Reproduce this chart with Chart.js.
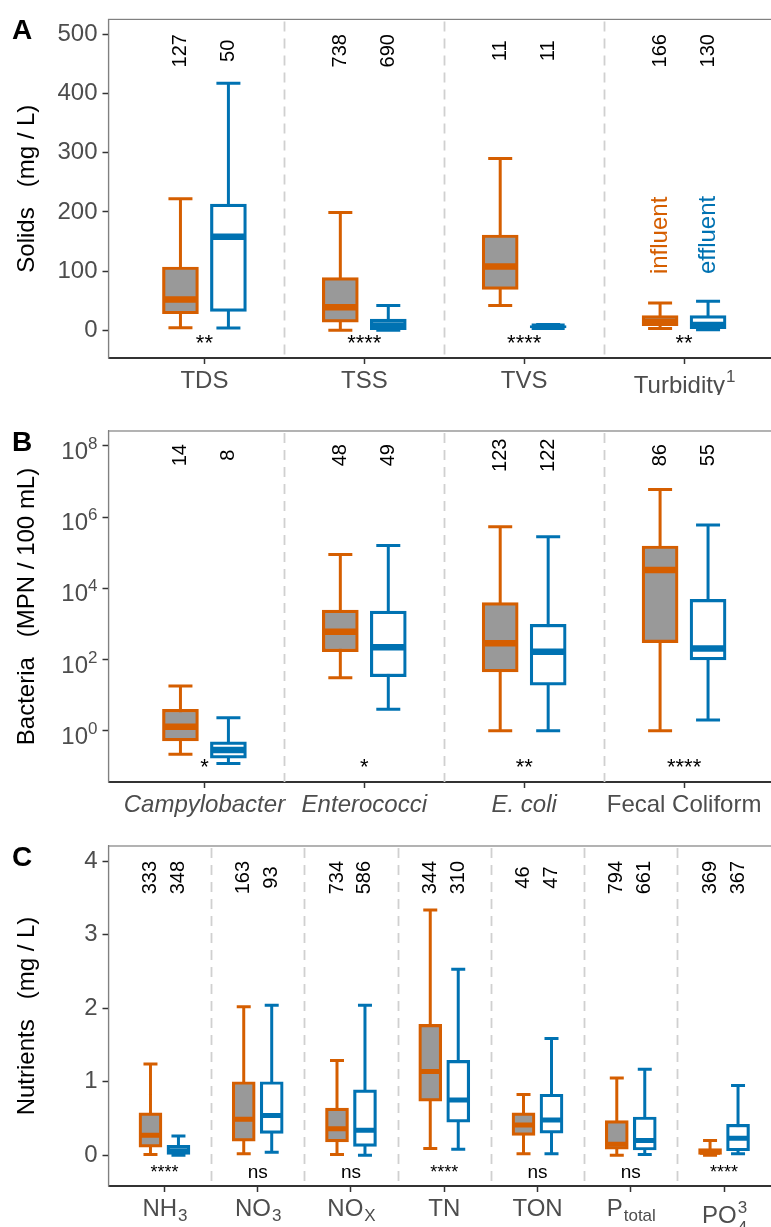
<!DOCTYPE html>
<html>
<head>
<meta charset="utf-8">
<title>Influent vs effluent boxplots</title>
<script src="https://cdn.jsdelivr.net/npm/chart.js@4.4.1/dist/chart.umd.min.js"></script>
<style>
  html, body { margin: 0; padding: 0; background: #fff; overflow: hidden; width: 771px; height: 1227px; }
  canvas { display: block; }
</style>
</head>
<body>
<canvas id="solids" width="781" height="395"></canvas>
<canvas id="bacteria" width="781" height="425"></canvas>
<canvas id="nutrients" width="781" height="407"></canvas>
<script>
// ---------------------------------------------------------------
// DATA  (each box: [lower whisker, Q1, median, Q3, upper whisker])
// ---------------------------------------------------------------
const solidsCategories = ['TDS', 'TSS', 'TVS', 'Turbidity^1'];
const solidsInfluent = [[4.5, 28, 52, 107, 222], [0, 14, 39, 89, 199], [42, 69, 108, 161, 290], [3, 8, 14, 25, 46]];
const solidsEffluent = [[4, 32, 158, 213, 417], [0, 1, 8, 19, 42], [3, 4, 6, 8, 10], [1, 3, 9, 25, 49]];
const solidsCounts = [[127, 50], [738, 690], [11, 11], [166, 130]];
const solidsSignif = ['**', '****', '****', '**'];
const solidsTicks = [0, 100, 200, 300, 400, 500];

const bacteriaCategories = ['Campylobacter', 'Enterococci', 'E. coli', 'Fecal Coliform'];
const bacteriaItalic = [true, true, true, false];
const bacteriaInfluent = [[0.22, 0.52, 1.3, 4, 18], [31, 166, 600, 2450, 90000], [1, 45, 285, 4000, 540000], [1, 300, 33000, 155000, 6000000]];
const bacteriaEffluent = [[0.12, 0.17, 0.29, 0.49, 2.3], [4, 33, 220, 2300, 160000], [1, 19, 166, 975, 280000], [2, 98, 205, 4900, 600000]];
const bacteriaCounts = [[14, 8], [48, 49], [123, 122], [86, 55]];
const bacteriaSignif = ['*', '*', '**', '****'];
const bacteriaTicks = [1, 1e2, 1e4, 1e6, 1e8];

const nutrientCategories = ['NH_3', 'NO_3', 'NO_X', 'TN', 'TON', 'P_total', 'PO_4^3'];
const nutrientInfluent = [[0.01, 0.11, 0.27, 0.575, 1.24], [0.02, 0.19, 0.49, 1.0, 2.02], [0.01, 0.18, 0.36, 0.64, 1.29], [0.09, 0.735, 1.14, 1.78, 3.34], [0.02, 0.27, 0.41, 0.575, 0.825], [0.0, 0.08, 0.15, 0.47, 1.05], [0.0, 0.01, 0.04, 0.09, 0.2]];
const nutrientEffluent = [[0.0, 0.01, 0.06, 0.135, 0.26], [0.04, 0.295, 0.54, 1.0, 2.04], [0.0, 0.12, 0.34, 0.89, 2.04], [0.08, 0.45, 0.75, 1.29, 2.53], [0.02, 0.30, 0.48, 0.83, 1.59], [0.01, 0.07, 0.2, 0.52, 1.17], [0.02, 0.06, 0.23, 0.42, 0.95]];
const nutrientCounts = [[333, 348], [163, 93], [734, 586], [344, 310], [46, 47], [794, 661], [369, 367]];
const nutrientSignif = ['****', 'ns', 'ns', '****', 'ns', 'ns', '****'];
const nutrientTicks = [0, 1, 2, 3, 4];

// ---------------------------------------------------------------
// STYLE
// ---------------------------------------------------------------
const INFLUENT = '#D55E00';
const EFFLUENT = '#0072B2';
const BOX_GRAY = '#999999';
const AXIS_TEXT = '#4d4d4d';
const FAMILY = "'Liberation Sans', Arial, Helvetica, sans-serif";
const DODGE = 0.15;

Chart.defaults.font.family = FAMILY;

// split 'P_total' / 'PO_4^3' / 'Turbidity^1' / '10^8' into pieces
function parseLabel(s) {
    const m = s.match(/^([^_^]+)(?:_([^_^]+))?(?:\^(.+))?$/);
    return { main: m[1], sub: m[2], sup: m[3] };
}

function buildDatasets(inf, eff, p) {
    const boxes = [], boxFill = [], boxLine = [];
    const medians = [], medianColors = [];
    const caps = [], capColors = [];
    const whiskers = { inf: [], eff: [] };
    inf.forEach((s, i) => {
        [[s, -1, INFLUENT, BOX_GRAY, 'inf'], [eff[i], 1, EFFLUENT, '#ffffff', 'eff']].forEach(([st, side, col, fill, key]) => {
            const x = i + 1 + side * DODGE;
            const [lo, q1, med, q3, hi] = st;
            boxes.push({ x, y: [q1, q3] }); boxFill.push(fill); boxLine.push(col);
            medians.push({ x, y: med }); medianColors.push(col);
            caps.push({ x, y: lo }, { x, y: hi }); capColors.push(col, col);
            whiskers[key].push({ x, y: lo }, { x, y: hi }, { x, y: null });
        });
    });
    return [
        { type: 'scatter', data: medians, pointStyle: 'line', pointRadius: (p.boxPx - 3) / 2, pointBorderWidth: p.medianWidth,
          pointBorderColor: medianColors, order: 0 },
        { type: 'bar', data: boxes, backgroundColor: boxFill, borderColor: boxLine, borderWidth: 3.2,
          borderSkipped: false, barThickness: p.boxPx, order: 1 },
        { type: 'scatter', data: caps, pointStyle: 'line', pointRadius: p.capHalf, pointBorderWidth: 3,
          pointBorderColor: capColors, order: 2 },
        { type: 'scatter', data: whiskers.inf, showLine: true, spanGaps: false, borderColor: INFLUENT,
          borderWidth: 3, pointRadius: 0, order: 3 },
        { type: 'scatter', data: whiskers.eff, showLine: true, spanGaps: false, borderColor: EFFLUENT,
          borderWidth: 3, pointRadius: 0, order: 3 },
    ];
}

function makePanel(id, p) {
    const n = p.cats.length;

    const framePlugin = {
        id: 'frame',
        beforeDraw(chart) {
            const { ctx, chartArea: a } = chart;
            ctx.save();
            ctx.strokeStyle = '#808080';
            ctx.lineWidth = 1.2;
            ctx.strokeRect(a.left, a.top, a.right - a.left, a.bottom - a.top);
            ctx.restore();
        },
        beforeDatasetsDraw(chart) {
            const { ctx, chartArea: a, scales: { x } } = chart;
            ctx.save();
            ctx.strokeStyle = '#d0d0d0';
            ctx.lineWidth = 1.8;
            ctx.setLineDash([10, 7]);
            for (let i = 1; i < n; i++) {
                const px = Math.round(x.getPixelForValue(i + 0.5)) + 0.5;
                ctx.beginPath();
                ctx.moveTo(px, a.top + 2);
                ctx.lineTo(px, a.bottom);
                ctx.stroke();
            }
            ctx.restore();
        }
    };

    const textPlugin = {
        id: 'panelText',
        afterDatasetsDraw(chart) {
            const { ctx, chartArea: a, scales: { x, y } } = chart;
            ctx.save();

            // sample sizes
            ctx.fillStyle = '#000';
            ctx.font = `20px ${FAMILY}`;
            ctx.textAlign = 'center';
            ctx.textBaseline = 'middle';
            p.counts.forEach((pair, i) => {
                pair.forEach((cnt, j) => {
                    ctx.save();
                    ctx.translate(x.getPixelForValue(i + 1 + (j ? DODGE : -DODGE)), y.getPixelForValue(p.countY));
                    ctx.rotate(-Math.PI / 2);
                    ctx.fillText(String(cnt), 0, 0);
                    ctx.restore();
                });
            });

            // significance marks
            ctx.textBaseline = 'alphabetic';
            p.signif.forEach((s, i) => {
                ctx.font = `${s === 'ns' ? p.nsSize : p.starSize}px ${FAMILY}`;
                ctx.fillText(s, x.getPixelForValue(i + 1), a.bottom - 8);
            });

            // influent / effluent key
            if (p.legendY !== undefined) {
                ctx.font = `24px ${FAMILY}`;
                ctx.textAlign = 'left';
                ctx.textBaseline = 'middle';
                [['influent', INFLUENT, -DODGE], ['effluent', EFFLUENT, DODGE]].forEach(([t, c, d]) => {
                    ctx.save();
                    ctx.fillStyle = c;
                    ctx.translate(x.getPixelForValue(n + d), y.getPixelForValue(p.legendY));
                    ctx.rotate(-Math.PI / 2);
                    ctx.fillText(t, 0, 0);
                    ctx.restore();
                });
            }

            // power-of-ten tick labels (log panel)
            ctx.fillStyle = AXIS_TEXT;
            ctx.textBaseline = 'alphabetic';
            if (p.richTicks) {
                ctx.textAlign = 'right';
                p.yTicks.forEach(v => {
                    const lab = parseLabel(p.tickLabel(v));
                    const py = y.getPixelForValue(v);
                    const right = a.left - 11;
                    ctx.font = `17px ${FAMILY}`;
                    const pw = ctx.measureText(lab.sup).width;
                    ctx.fillText(lab.sup, right, py + 3);
                    ctx.font = `24px ${FAMILY}`;
                    ctx.fillText(lab.main, right - pw, py + 13);
                });
            }

            // category labels with sub/superscripts
            ctx.textAlign = 'left';
            p.cats.forEach((c, i) => {
                const lab = parseLabel(c);
                const style = p.italic && p.italic[i] ? 'italic ' : '';
                ctx.font = `${style}24px ${FAMILY}`;
                const mw = ctx.measureText(lab.main).width;
                ctx.font = `17px ${FAMILY}`;
                const sw = lab.sub ? ctx.measureText(lab.sub).width : 0;
                const pw = lab.sup ? ctx.measureText(lab.sup).width : 0;
                const x0 = x.getPixelForValue(i + 1) - (mw + Math.max(sw, pw)) / 2;
                const base = a.bottom + 30 + (lab.sup && lab.sub ? 7 : lab.sup ? 5 : 0);
                ctx.font = `${style}24px ${FAMILY}`;
                ctx.fillText(lab.main, x0, base);
                ctx.font = `17px ${FAMILY}`;
                if (lab.sub) ctx.fillText(lab.sub, x0 + mw + 1, base + (lab.sup ? 10 : 5));
                if (lab.sup) ctx.fillText(lab.sup, x0 + mw + 1, base - (lab.sub ? 10 : 11));
            });

            // panel letter
            ctx.fillStyle = '#000';
            ctx.font = `bold 28px ${FAMILY}`;
            ctx.fillText(p.letter, 12, a.top + 20);
            ctx.restore();
        }
    };

    return new Chart(document.getElementById(id), {
        type: 'bar',
        data: { datasets: buildDatasets(p.inf, p.eff, p) },
        options: {
            responsive: false,
            animation: false,
            devicePixelRatio: 1,
            events: [],
            layout: { autoPadding: false, padding: { top: p.padTop, left: 0, right: 1, bottom: 0 } },
            plugins: { legend: { display: false }, tooltip: { enabled: false } },
            scales: {
                x: {
                    type: 'linear', min: 0.4, max: n + 0.6, offset: false,
                    afterBuildTicks: s => { s.ticks = p.cats.map((c, i) => ({ value: i + 1 })); },
                    afterFit: s => { s.height = p.xHeight; },
                    ticks: { display: false },
                    grid: { display: true, offset: false, drawOnChartArea: false, drawTicks: true, tickLength: 6, tickColor: '#333', tickWidth: 1.5 },
                    border: { display: true, color: '#333', width: 2 }
                },
                y: {
                    type: p.yType, min: p.yMin, max: p.yMax,
                    afterBuildTicks: s => { s.ticks = p.yTicks.map(v => ({ value: v })); },
                    afterFit: s => { s.width = 108.5; },
                    ticks: { display: !p.richTicks, color: AXIS_TEXT, font: { size: 24 }, padding: 5, callback: p.tickLabel },
                    grid: { display: true, drawOnChartArea: false, drawTicks: true, tickLength: 6, tickColor: '#333', tickWidth: 1.5 },
                    border: { display: true, color: '#808080', width: 1.2 },
                    title: { display: true, text: p.title, color: '#000', font: { size: 24 }, padding: { top: 13, bottom: 0 } }
                }
            }
        },
        plugins: [framePlugin, textPlugin]
    });
}

// ---------------------------------------------------------------
// PANELS
// ---------------------------------------------------------------
makePanel('solids', {
    cats: solidsCategories, inf: solidsInfluent, eff: solidsEffluent,
    counts: solidsCounts, signif: solidsSignif, yTicks: solidsTicks,
    yType: 'linear', yMin: -46.7, yMax: 525, tickLabel: v => String(v),
    title: 'Solids   (mg / L)', letter: 'A', padTop: 15, xHeight: 37,
    boxPx: 36, capHalf: 12, medianWidth: 6.5, countY: 472, starSize: 22, nsSize: 19, legendY: 95
});

makePanel('bacteria', {
    cats: bacteriaCategories, italic: bacteriaItalic, inf: bacteriaInfluent, eff: bacteriaEffluent,
    counts: bacteriaCounts, signif: bacteriaSignif, yTicks: bacteriaTicks,
    yType: 'logarithmic', yMin: Math.pow(10, -1.44), yMax: Math.pow(10, 8.42), richTicks: true,
    tickLabel: v => '10^' + Math.round(Math.log10(v)),
    title: 'Bacteria   (MPN / 100 mL)', letter: 'B', padTop: 36, xHeight: 38,
    boxPx: 36, capHalf: 12, medianWidth: 6.5, countY: 5.5e7, starSize: 22, nsSize: 19
});

makePanel('nutrients', {
    cats: nutrientCategories, inf: nutrientInfluent, eff: nutrientEffluent,
    counts: nutrientCounts, signif: nutrientSignif, yTicks: nutrientTicks,
    yType: 'linear', yMin: -0.42, yMax: 4.21, tickLabel: v => String(v),
    title: 'Nutrients   (mg / L)', letter: 'C', padTop: 26, xHeight: 41,
    boxPx: 23, capHalf: 7, medianWidth: 5, countY: 3.78, starSize: 18, nsSize: 19
});
</script>
</body>
</html>
